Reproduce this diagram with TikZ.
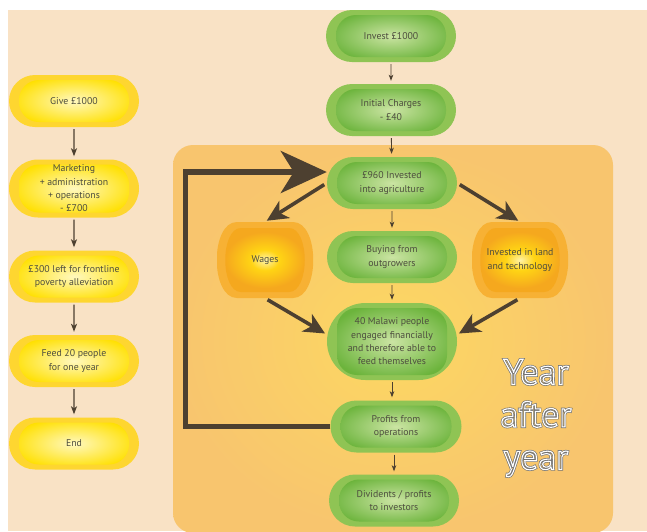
\documentclass[tikz,border=0pt]{standalone}
\usepackage{fontspec}
\setmainfont{PT Sans}
\usetikzlibrary{shapes.misc,arrows.meta,calc}

\definecolor{peach}{RGB}{249,226,197}
\definecolor{yearbandin}{RGB}{252,216,98}
\definecolor{yearbandout}{RGB}{248,197,110}
\definecolor{yellowring}{RGB}{254,214,48}
\definecolor{yellowcentre}{RGB}{255,248,190}
\definecolor{yellowedge}{RGB}{255,224,0}
\definecolor{greenring}{RGB}{143,196,84}
\definecolor{greencentre}{RGB}{203,228,163}
\definecolor{greenedge}{RGB}{108,180,60}
\definecolor{barrelring}{RGB}{247,177,52}
\definecolor{barrelcentre}{RGB}{255,243,170}
\definecolor{barrelmid}{RGB}{255,212,20}
\definecolor{barreledge}{RGB}{245,168,30}
\definecolor{labeltext}{RGB}{77,77,62}
\definecolor{arrowdark}{RGB}{77,64,48}

\pgfdeclareradialshading{barrelglow}{\pgfpoint{0bp}{0bp}}{%
  color(0bp)=(barrelcentre); color(8bp)=(barrelmid);
  color(22bp)=(barreledge); color(50bp)=(barreledge)}

% hollow letters: grey stroke first, white stroke on top
\newcommand{\hollowword}[1]{%
  \special{pdf:literal direct 1 Tr 2.4 w 0.45 0.45 0.45 RG}\rlap{#1}%
  \special{pdf:literal direct 1 Tr 1.1 w 1 1 1 RG}#1%
  \special{pdf:literal direct 0 Tr}}

% barrel outline round the centre c: flat half width #1, bulge control #2, half height #3
\newcommand{\barrelpath}[3]{%
  ([shift={(-#1,#3)}]c) -- ([shift={(#1,#3)}]c)
  .. controls ([shift={(#2,#3)}]c) and ([shift={(#2,-#3)}]c) .. ([shift={(#1,-#3)}]c)
  -- ([shift={(-#1,-#3)}]c)
  .. controls ([shift={(-#2,-#3)}]c) and ([shift={(-#2,#3)}]c) .. cycle}

\begin{document}
\begin{tikzpicture}[x=1pt,y=-1pt,
  every node/.style={font=\fontsize{9.8}{13.3}\selectfont, text=labeltext, align=center, inner sep=0pt},
  pill/.style n args={3}{rounded rectangle, minimum width=130pt, minimum height=52pt, fill=#1,
    path picture={\shade[inner color=#2, outer color=#3, rounded corners=20pt]
      ([shift={(10pt,5pt)}]path picture bounding box.south west) rectangle
      ([shift={(-10pt,-5pt)}]path picture bounding box.north east);}},
  givepill/.style={pill={yellowring}{yellowcentre}{yellowedge}},
  investpill/.style={pill={greenring}{greencentre}{greenedge}},
  barrel/.style={rectangle, minimum width=96pt, minimum height=76pt,
    path picture={\coordinate (c) at (path picture bounding box.center);
      \fill[barrelring] \barrelpath{28pt}{55pt}{38pt};
      \shade[shading=barrelglow] \barrelpath{24pt}{45pt}{32pt};}},
  downarrow/.style={draw=arrowdark, line width=0.9pt, -{Stealth[length=6pt,width=4.5pt,inset=1.5pt]},
    shorten <=2pt, shorten >=3pt},
  givearrow/.style={downarrow, line width=1.3pt, -{Stealth[length=8pt,width=6pt,inset=2pt]}},
  fatarrow/.style={draw=arrowdark, line width=3.6pt, -{Stealth[length=21pt,width=20pt,inset=6pt]},
    shorten <=3pt, shorten >=2pt},
  loopback/.style={draw=arrowdark, line width=5.5pt, line join=miter, -{Stealth[length=46pt,width=42pt,inset=13pt]}}]

\useasboundingbox (0,0) rectangle (647,531);
\fill[peach] (8,10) rectangle (647,531);
\shade[inner color=yearbandin, outer color=yearbandout, rounded corners=20pt] (173,145) rectangle (613,533);

% donation column
\node[givepill] (give) at (74,101) {Give £1000};
\node[givepill, minimum height=58pt] (overheads) at (74,188.5) {Marketing\\+ administration\\+ operations\\- £700};
\node[givepill] (frontline) at (74,276.5) {£300 left for frontline\\poverty alleviation};
\node[givepill] (feed) at (74,361) {Feed 20 people\\for one year};
\node[givepill] (giveend) at (74,443.5) {End};

\draw[givearrow] (give) -- (overheads);
\draw[givearrow] (overheads) -- (frontline);
\draw[givearrow] (frontline) -- (feed);
\draw[givearrow] (feed) -- (giveend);

% investment column
\node[investpill] (invest) at (391,36) {Invest £1000};
\node[investpill] (charges) at (391,110) {Initial Charges\\- £40};
\node[investpill] (farming) at (392,183) {£960 Invested\\into agriculture};
\node[investpill] (outgrowers) at (392,257) {Buying from\\outgrowers};
\node[investpill, minimum height=77pt] (malawi) at (392,341.5) {40 Malawi people\\engaged financially\\and therefore able to\\feed themselves};
\node[investpill, minimum width=131pt] (profits) at (396,426.5) {Profits from\\operations};
\node[investpill] (dividends) at (394,500.5) {Dividents / profits\\to investors};

\node[barrel] (wages) at (265,260) {Wages};
\node[barrel] (land) at (520,260) {Invested in land\\and technology};

\draw[downarrow] (invest) -- (charges);
\draw[downarrow] (charges) -- (farming);
\draw[downarrow] (farming) -- (outgrowers);
\draw[downarrow] (outgrowers) -- (malawi);
\draw[downarrow] (malawi.south) -- (malawi.south |- profits.north);
\draw[downarrow] (profits.south -| dividends) -- (dividends.north);

\draw[fatarrow] (farming.west) -- (wages.north);
\draw[fatarrow] (farming.east) -- (land.north);
\draw[fatarrow] (wages.south) -- ($(malawi.west)+(0,-7)$);
\draw[fatarrow] (land.south) -- ($(malawi.east)+(0,-7)$);

% back round every year
\coordinate (loopin) at ($(farming.west)+(0,-11)$);
\draw[loopback] (profits.west) -- ++(-145,0) |- (loopin);

\node[font=\fontsize{36}{42.5}\selectfont] (yearloop) at (536,418) {\hollowword{Year}\\\hollowword{after}\\\hollowword{year}};
\end{tikzpicture}
\end{document}
